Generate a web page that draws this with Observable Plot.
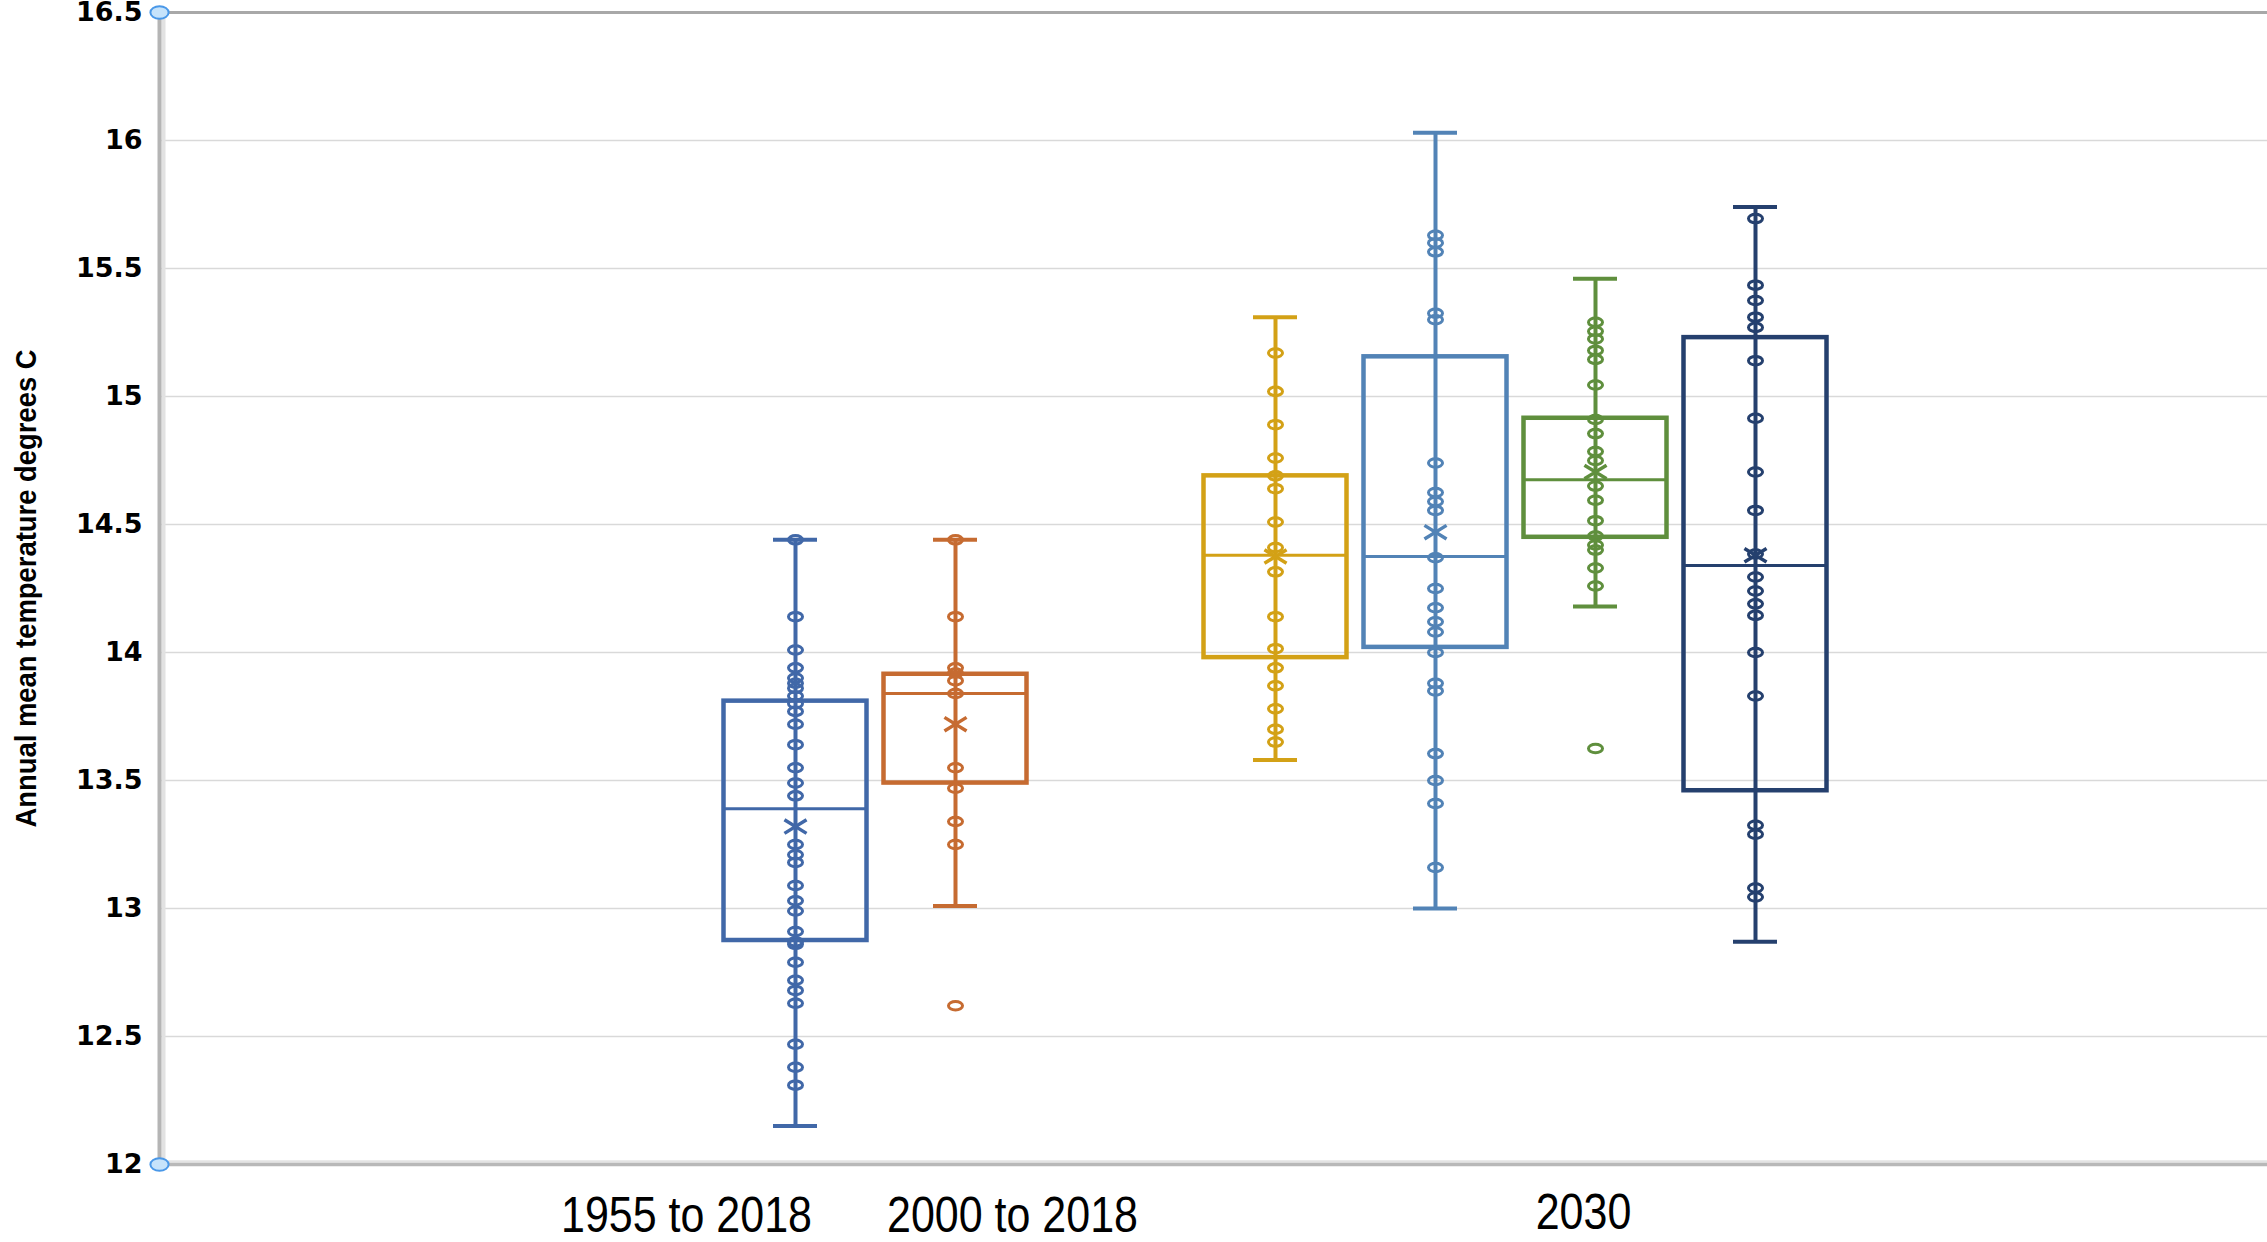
<!DOCTYPE html>
<html>
<head>
<meta charset="utf-8">
<script src="https://cdn.jsdelivr.net/npm/d3@7"></script>
<script src="https://cdn.jsdelivr.net/npm/@observablehq/plot@0.6"></script>
<style>
  html, body { margin: 0; padding: 0; background: #fff; overflow: hidden; }
</style>
</head>
<body>
<div id="chart"></div>
<script>
// ---------- data ----------
const seriesNames = ["1955 to 2018", "2000 to 2018", "2030 (1)", "2030 (2)", "2030 (3)", "2030 (4)"];
const xSlots = ["1955 to 2018", "2000 to 2018", "spacer", "2030 (1)", "2030 (2)", "2030 (3)", "2030 (4)"];
const seriesColors = ["#4168a8", "#c66b31", "#d3a116", "#5283b6", "#5f8f3d", "#25406e"];

const q1Values      = [12.875, 13.49, 13.98, 14.02, 14.45, 13.46];
const medianValues  = [13.39, 13.84, 14.38, 14.375, 14.675, 14.34];
const q3Values      = [13.81, 13.915, 14.69, 15.155, 14.915, 15.23];
const whiskerLow    = [12.15, 13.01, 13.58, 13.0, 14.18, 12.87];
const whiskerHigh   = [14.44, 14.44, 15.31, 16.03, 15.46, 15.74];
const meanValues    = [13.32, 13.72, 14.375, 14.47, 14.705, 14.38];

const points1955 = [14.44, 14.14, 14.01, 13.94, 13.90, 13.88, 13.86, 13.83, 13.80, 13.77, 13.72, 13.64,
  13.55, 13.49, 13.44, 13.25, 13.21, 13.18, 13.09, 13.03, 12.99, 12.91, 12.87, 12.86, 12.79, 12.72,
  12.68, 12.63, 12.47, 12.38, 12.31];
const points2000 = [14.44, 14.14, 13.94, 13.92, 13.89, 13.84, 13.55, 13.47, 13.34, 13.25, 12.62];
const points2030a = [15.17, 15.02, 14.89, 14.76, 14.69, 14.64, 14.51, 14.41, 14.315, 14.14, 14.015,
  13.94, 13.87, 13.78, 13.70, 13.65];
const points2030b = [15.63, 15.60, 15.565, 15.325, 15.30, 14.74, 14.625, 14.59, 14.555, 14.37, 14.25,
  14.175, 14.12, 14.08, 14.0, 13.88, 13.85, 13.605, 13.50, 13.41, 13.16];
const points2030c = [15.29, 15.255, 15.225, 15.18, 15.145, 15.045, 14.91, 14.855, 14.785, 14.75,
  14.65, 14.595, 14.515, 14.455, 14.42, 14.40, 14.33, 14.26, 13.625];
const points2030d = [15.695, 15.435, 15.375, 15.31, 15.27, 15.14, 14.915, 14.705, 14.555, 14.385,
  14.295, 14.24, 14.19, 14.145, 14.0, 13.83, 13.325, 13.29, 13.08, 13.045];
const pointLists = [points1955, points2000, points2030a, points2030b, points2030c, points2030d];

const yTicks = [12, 12.5, 13, 13.5, 14, 14.5, 15, 15.5, 16, 16.5];
const xLabels = ["1955 to 2018", "2000 to 2018", "2030"];
const xLabelSlots = ["1955 to 2018", "2000 to 2018", "2030 (3)"];
const yTitle = "Annual mean temperature degrees C";
const handleValues = [16.5, 12];

// ---------- tables built from the arrays ----------
const stats = seriesNames.map((s, i) => ({
  series: s, q1: q1Values[i], median: medianValues[i], q3: q3Values[i],
  lo: whiskerLow[i], hi: whiskerHigh[i], mean: meanValues[i]
}));
const points = seriesNames.flatMap((s, i) => pointLists[i].map(v => ({series: s, value: v})));

// ---------- symbols ----------
function ellipseSymbol(ax, ay) {
  return {
    draw(ctx, size) {
      const r = Math.sqrt(size / Math.PI), rx = r * ax, ry = r * ay, k = 0.5523;
      ctx.moveTo(rx, 0);
      ctx.bezierCurveTo(rx, ry * k, rx * k, ry, 0, ry);
      ctx.bezierCurveTo(-rx * k, ry, -rx, ry * k, -rx, 0);
      ctx.bezierCurveTo(-rx, -ry * k, -rx * k, -ry, 0, -ry);
      ctx.bezierCurveTo(rx * k, -ry, rx, -ry * k, rx, 0);
      ctx.closePath();
    }
  };
}
const crossSymbol = {
  draw(ctx, size) {
    const r = Math.sqrt(size / Math.PI), w = r * 1.3, h = r * 0.8;
    ctx.moveTo(-w, -h); ctx.lineTo(w, h);
    ctx.moveTo(-w, h); ctx.lineTo(w, -h);
  }
};

const labelDx = [-109, 57, -12];
const labelDy = [67, 67, 64];
const sansFont = "'Liberation Sans', Arial, sans-serif";

const chart = Plot.plot({
  width: 2267,
  height: 1242,
  marginLeft: 159,
  marginRight: 0,
  marginTop: 12,
  marginBottom: 78,
  style: {background: "white", color: "black", overflow: "visible"},
  x: {type: "band", domain: xSlots, range: [714, 1836], padding: 0, axis: null},
  y: {domain: [12, 16.5]},
  color: {domain: seriesNames, range: seriesColors},
  marks: [
    Plot.gridY(yTicks.filter(t => t > 12 && t < 16.5), {stroke: "#d9d9d9", strokeOpacity: 1, strokeWidth: 1.6}),
    Plot.frame({anchor: "top", stroke: "#a8a8a8", strokeWidth: 3}),
    Plot.frame({anchor: "bottom", stroke: "#e3e3e3", strokeWidth: 2.5, dy: -3}),
    Plot.frame({anchor: "bottom", stroke: "#b8b8b8", strokeWidth: 3.5}),
    Plot.frame({anchor: "left", stroke: "#e2e2e2", strokeWidth: 4, dx: 4}),
    Plot.frame({anchor: "left", stroke: "#b5b5b5", strokeWidth: 4}),
    Plot.axisY(yTicks, {
      tickSize: 0, tickPadding: 17, fontSize: 27, fontWeight: "bold",
      fontFamily: "'DejaVu Sans', Verdana, sans-serif", tickFormat: d => String(d), label: null
    }),
    Plot.ruleX(stats, {x: "series", y1: "lo", y2: "hi", stroke: "series", strokeWidth: 4}),
    Plot.tickY(stats, {x: "series", y: "lo", stroke: "series", strokeWidth: 4, insetLeft: 58, insetRight: 58}),
    Plot.tickY(stats, {x: "series", y: "hi", stroke: "series", strokeWidth: 4, insetLeft: 58, insetRight: 58}),
    Plot.barY(stats, {x: "series", y1: "q1", y2: "q3", fill: "none", stroke: "series", strokeWidth: 4.5, insetLeft: 8.5, insetRight: 8.5}),
    Plot.tickY(stats, {x: "series", y: "median", stroke: "series", strokeWidth: 3, insetLeft: 8.5, insetRight: 8.5}),
    Plot.dot(points, {x: "series", y: "value", stroke: "series", fill: "none", strokeWidth: 3, r: 5.2, symbol: ellipseSymbol(1.35, 0.82)}),
    Plot.dot(stats, {x: "series", y: "mean", stroke: "series", fill: "none", strokeWidth: 3.5, r: 8.5, symbol: crossSymbol}),
    Plot.dot(handleValues, {y: d => d, frameAnchor: "left", r: 7, symbol: ellipseSymbol(1.3, 0.9), fill: "#c6e3fb", stroke: "#4a98e8", strokeWidth: 2}),
    ...xLabels.map((label, i) => Plot.text([label], {
      x: () => xLabelSlots[i], text: d => d, frameAnchor: "bottom", lineAnchor: "bottom",
      dx: labelDx[i], dy: labelDy[i], fontSize: 50, fontFamily: sansFont, fill: "black"
    })),
    Plot.text([yTitle], {
      text: d => d, frameAnchor: "left", dx: -133, rotate: -90, lineAnchor: "middle", textAnchor: "middle",
      fontSize: 29, fontWeight: "bold", fontFamily: sansFont, fill: "black"
    })
  ]
});

document.getElementById("chart").appendChild(chart);
// horizontally condense the label glyphs (the reference uses a narrow face)
function condense(el, s) {
  const x = +el.getAttribute("x") || 0;
  const t = el.getAttribute("transform") || "";
  el.setAttribute("transform", `${t} translate(${x},0) scale(${s},1) translate(${-x},0)`);
}
chart.querySelectorAll("text").forEach(el => {
  const content = el.textContent.trim();
  if (xLabels.includes(content) && !el.closest('[aria-label="y-axis tick label"]')) condense(el, 0.86);
  else if (content === yTitle) condense(el, 0.945);
});
</script>
</body>
</html>
